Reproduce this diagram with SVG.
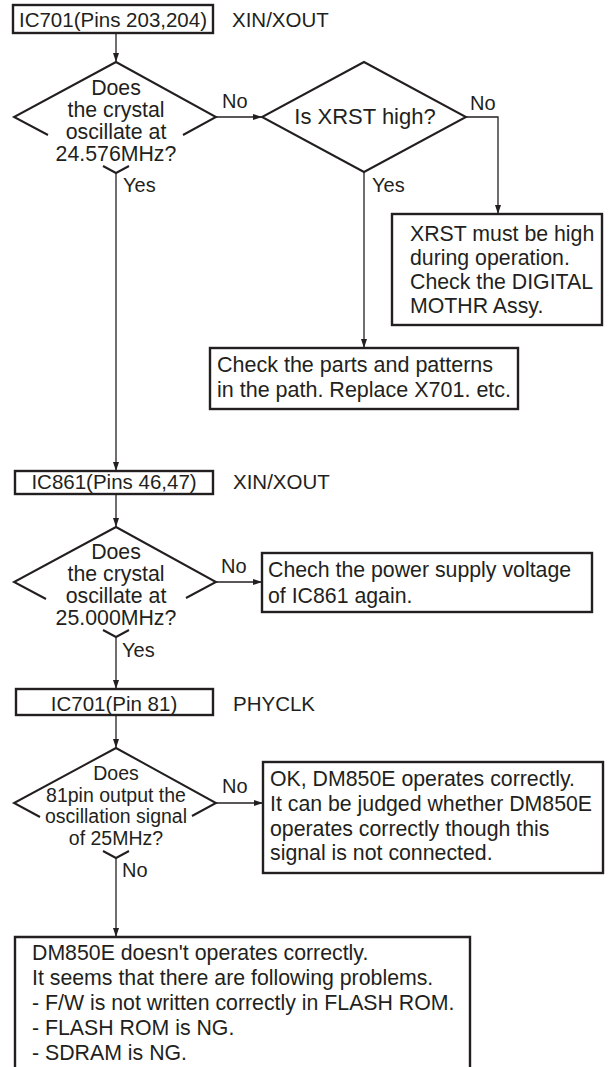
<svg xmlns="http://www.w3.org/2000/svg" width="611" height="1067" viewBox="0 0 611 1067">
<style>
text{font-family:"Liberation Sans",Arial,sans-serif;font-size:21.3px;fill:#231f20}
.c{text-anchor:middle}
.lb{font-size:20.5px}
.yn{font-size:20px}
.d{font-size:21.3px}
.d2{font-size:22px}
.cb{font-size:21.5px}
.d4{font-size:19.5px}
.box{fill:#fff;stroke:#231f20;stroke-width:2.4}
.dia{fill:none;stroke:#231f20;stroke-width:2}
.ln{fill:none;stroke:#231f20;stroke-width:1.3}
</style>
<defs>
<marker id="ah" markerUnits="userSpaceOnUse" markerWidth="9" markerHeight="7" refX="9" refY="3.5" orient="auto">
<path d="M0,0.5 L9,3.5 L0,6.5 z" fill="#231f20"/>
</marker>
</defs>
<rect width="611" height="1067" fill="#fff"/>
<g id="connectors">
<path class="ln" d="M116,33 V62" marker-end="url(#ah)"/>
<path class="ln" d="M216,117 H262" marker-end="url(#ah)"/>
<path class="ln" d="M466,117 H498 V214" marker-end="url(#ah)"/>
<path class="ln" d="M364,172 V348" marker-end="url(#ah)"/>
<path class="ln" d="M116,173 V471" marker-end="url(#ah)"/>
<path class="ln" d="M116,494 V527" marker-end="url(#ah)"/>
<path class="ln" d="M216,582 H262" marker-end="url(#ah)"/>
<path class="ln" d="M116,637 V689" marker-end="url(#ah)"/>
<path class="ln" d="M116,715 V748" marker-end="url(#ah)"/>
<path class="ln" d="M216,803 H263" marker-end="url(#ah)"/>
<path class="ln" d="M116,858 V937" marker-end="url(#ah)"/>
<text class="yn" x="222" y="108">No</text>
<text class="yn" x="470" y="110">No</text>
<text class="yn" x="372" y="192">Yes</text>
<text class="yn" x="123" y="192">Yes</text>
<text class="yn" x="221" y="573">No</text>
<text class="yn" x="122" y="657">Yes</text>
<text class="yn" x="222" y="793">No</text>
<text class="yn" x="122" y="877">No</text>
</g>
<g id="n1">
<rect class="box" x="13" y="5" width="200" height="28"/>
<text class="c lb" x="113" y="27">IC701(Pins 203,204)</text>
<text class="lb" x="232" y="27">XIN/XOUT</text>
</g>
<g id="d1">
<path class="dia" d="M48,135 L14,117 L116,62 L216,117 L183,135 M103,166 L116,173 L129,166"/>
<text class="c d" x="116" y="94.5">Does</text>
<text class="c d" x="116" y="116.5">the crystal</text>
<text class="c d" x="116" y="138.5">oscillate at</text>
<text class="c d" x="116" y="160.5">24.576MHz?</text>
</g>
<g id="d2">
<polygon class="dia" points="364,62 466,117 364,172 262,117"/>
<text class="c d2" x="365" y="124">Is XRST high?</text>
</g>
<g id="n2">
<rect class="box" x="392" y="214" width="210" height="111"/>
<text class="d" x="410" y="241">XRST must be high</text>
<text class="d" x="410" y="265">during operation.</text>
<text class="d" x="410" y="289">Check the DIGITAL</text>
<text class="d" x="410" y="313">MOTHR Assy.</text>
</g>
<g id="n3">
<rect class="box" x="210" y="348" width="308" height="61"/>
<text class="cb" x="217" y="372">Check the parts and patterns</text>
<text class="cb" x="217" y="397">in the path. Replace X701. etc.</text>
</g>
<g id="n4">
<rect class="box" x="15" y="471" width="198" height="23"/>
<text class="c lb" x="114" y="489">IC861(Pins 46,47)</text>
<text class="lb" x="233" y="489">XIN/XOUT</text>
</g>
<g id="d3">
<path class="dia" d="M46,599 L14,582 L116,527 L216,582 L186,598 M103,630 L116,637 L129,630"/>
<text class="c d" x="116" y="559">Does</text>
<text class="c d" x="116" y="581">the crystal</text>
<text class="c d" x="116" y="603">oscillate at</text>
<text class="c d" x="116" y="625">25.000MHz?</text>
</g>
<g id="n5">
<rect class="box" x="262" y="553" width="330" height="59"/>
<text x="268" y="577">Chech the power supply voltage</text>
<text x="268" y="603">of IC861 again.</text>
</g>
<g id="n6">
<rect class="box" x="16" y="689" width="197" height="26"/>
<text class="c lb" x="114" y="711">IC701(Pin 81)</text>
<text class="lb" x="233" y="711">PHYCLK</text>
</g>
<g id="d4">
<path class="dia" d="M40,817 L14,803 L116,748 L216,803 L192,816 M103,851 L116,858 L129,851"/>
<text class="c d4" x="116" y="780">Does</text>
<text class="c d4" x="116" y="802">81pin output the</text>
<text class="c d4" x="116" y="823">oscillation signal</text>
<text class="c d4" x="116" y="845">of 25MHz?</text>
</g>
<g id="n7">
<rect class="box" x="263" y="762" width="340" height="111"/>
<text x="270" y="786">OK, DM850E operates correctly.</text>
<text x="270" y="811">It can be judged whether DM850E</text>
<text x="270" y="836">operates correctly though this</text>
<text x="270" y="860">signal is not connected.</text>
</g>
<g id="n8">
<path class="box" d="M15,1068 V937 H470 V1068"/>
<text x="32" y="960">DM850E doesn't operates correctly.</text>
<text x="32" y="985">It seems that there are following problems.</text>
<text x="32" y="1010">- F/W is not written correctly in FLASH ROM.</text>
<text x="32" y="1035">- FLASH ROM is NG.</text>
<text x="32" y="1060">- SDRAM is NG.</text>
</g>
</svg>
